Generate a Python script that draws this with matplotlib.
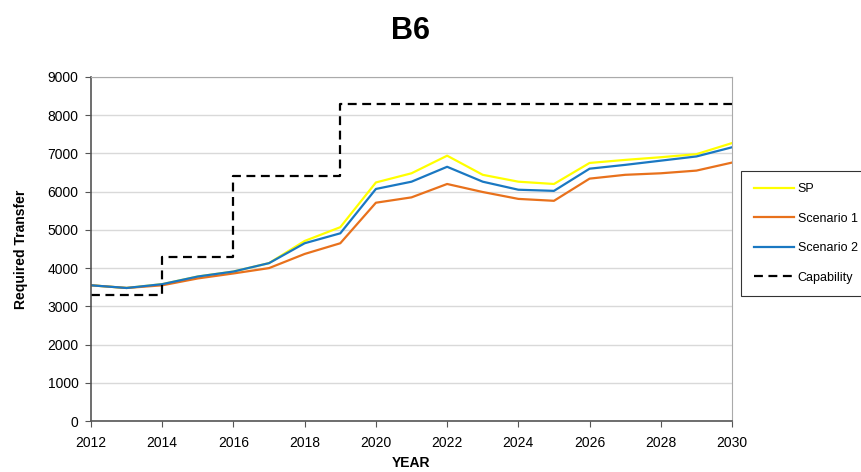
import numpy as np
import matplotlib.pyplot as plt

plt.rcParams['font.family'] = ['Liberation Sans', 'DejaVu Sans']

years = np.arange(2012, 2031)
sp = [3550, 3480, 3580, 3780, 3910, 4130, 4710, 5070, 6240, 6480, 6940,
      6440, 6260, 6200, 6750, 6830, 6900, 6980, 7270]
scenario1 = [3550, 3480, 3550, 3730, 3860, 4000, 4370, 4650, 5710, 5850, 6200,
             5990, 5810, 5760, 6340, 6440, 6480, 6550, 6760]
scenario2 = [3550, 3480, 3580, 3780, 3910, 4130, 4650, 4910, 6070, 6260, 6650,
             6260, 6050, 6020, 6600, 6700, 6810, 6920, 7160]
cap_years = [2012, 2014, 2016, 2019, 2030]
capability = [3300, 4300, 6400, 8300, 8300]

fig = plt.figure(figsize=(8.61, 4.72), dpi=100)
ax = fig.add_axes([0.1057, 0.108, 0.7445, 0.729])

ax.plot(years, sp, color='#ffff00', lw=1.6, label='SP')
ax.plot(years, scenario1, color='#e8711c', lw=1.6, label='Scenario 1')
ax.plot(years, scenario2, color='#1a78c2', lw=1.6, label='Scenario 2')
ax.step(cap_years, capability, where='post', color='black', lw=1.6,
        linestyle=(0, (4, 2.5)), label='Capability')

ax.set_xlim(2012, 2030)
ax.set_ylim(0, 9000)
ax.set_xticks(np.arange(2012, 2031, 2))
ax.set_yticks(np.arange(0, 9001, 1000))
ax.yaxis.grid(True, color='#d9d9d9', lw=1)
ax.set_axisbelow(True)
ax.tick_params(direction='out', length=4, color='#555555', labelsize=10, pad=5)
ax.tick_params(axis='x', pad=7)
for side in ['top', 'right']:
    ax.spines[side].set_color('#aaaaaa')
for side in ['left', 'bottom']:
    ax.spines[side].set_color('#555555')
    ax.spines[side].set_linewidth(1.2)

ax.set_xlabel('YEAR', fontsize=10, fontweight='bold', labelpad=4)
ax.set_ylabel('Required Transfer', fontsize=10, fontweight='bold', labelpad=14)
fig.text(0.477, 0.935, 'B6', ha='center', va='center', fontsize=22, fontweight='bold')

leg = ax.legend(loc='center left', bbox_to_anchor=(1.005, 0.545), fontsize=9,
                frameon=True, fancybox=False, edgecolor='black',
                handlelength=3.2, labelspacing=1.4, borderpad=1.0, handletextpad=0.3)
leg.get_frame().set_linewidth(0.8)

fig.savefig('out.png', dpi=100)
